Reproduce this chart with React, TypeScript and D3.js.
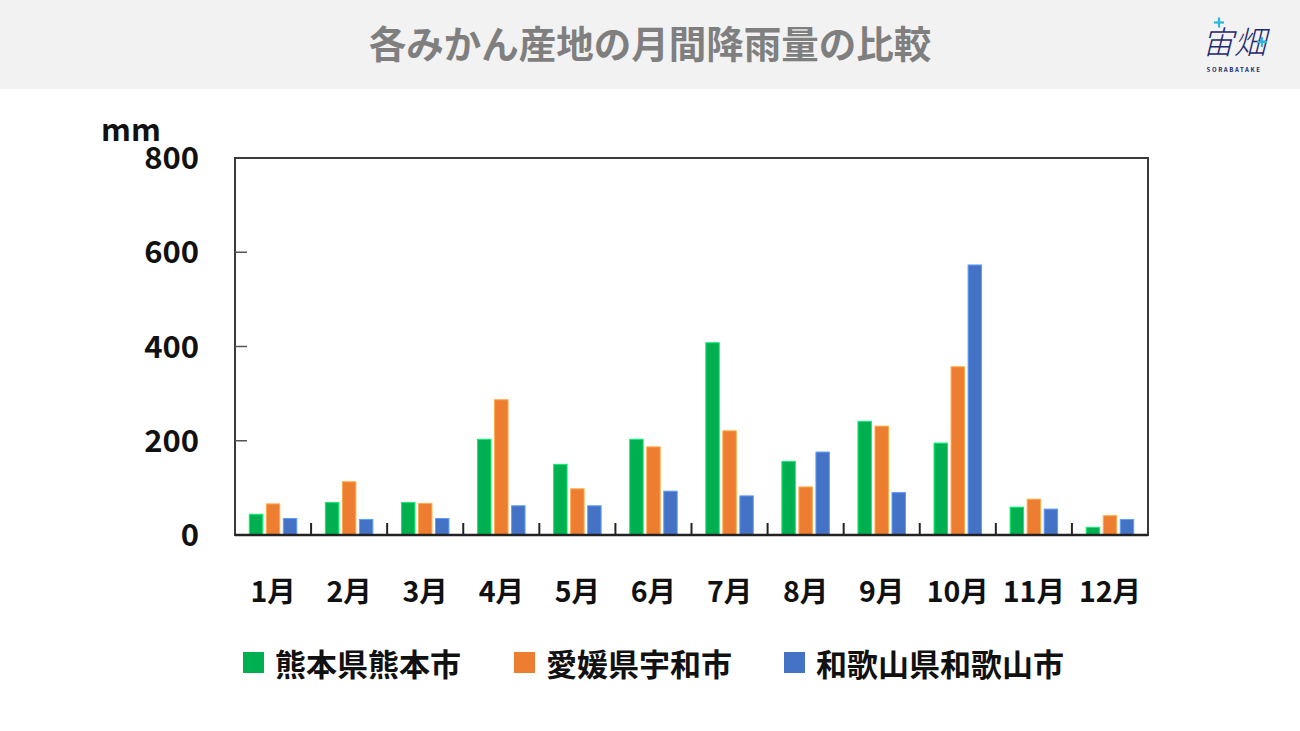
import React from "react";
import * as d3 from "d3";

const months = ["1月", "2月", "3月", "4月", "5月", "6月", "7月", "8月", "9月", "10月", "11月", "12月"];
const seriesNames = ["熊本県熊本市", "愛媛県宇和市", "和歌山県和歌山市"];
const seriesColors = ["#00b050", "#ed7d31", "#4472c4"];
const kumamoto = [44, 69, 69, 203, 150, 203, 408, 156, 241, 195, 59, 16];
const uwa = [66, 113, 67, 287, 98, 187, 221, 102, 231, 357, 76, 41];
const wakayama = [35, 33, 35, 62, 62, 93, 83, 176, 90, 573, 55, 33];
const yTicks = [0, 200, 400, 600, 800];
const title = "各みかん産地の月間降雨量の比較";
const yUnit = "mm";

const W = 1300;
const H = 731;
const FONT = "'Noto Sans CJK JP', 'Noto Sans', sans-serif";

export default function App() {
  const left = 235, right = 1148, top = 158, bottom = 535;
  const x = d3.scaleBand<string>().domain(months).range([left, right]).paddingInner(0).paddingOuter(0);
  const x1 = d3.scaleBand<string>().domain(seriesNames).range([0, x.bandwidth()]).paddingInner(0.21).paddingOuter(0.84);
  const y = d3.scaleLinear().domain([0, 800]).range([bottom, top]);
  const data = [kumamoto, uwa, wakayama];

  const legendX = [243, 514, 784];

  return (
    <div style={{ position: "fixed", left: 0, top: 0, width: W, height: H, background: "#fff" }}>
      <svg width={W} height={H} viewBox={`0 0 ${W} ${H}`} style={{ display: "block", fontFamily: FONT }}>
        <rect x={0} y={0} width={W} height={H} fill="#ffffff" />
        <rect x={0} y={0} width={W} height={89} fill="#f2f2f2" />
        <text x={650} y={58} textAnchor="middle" fontSize={37.5} fontWeight={700} fill="#7f7f7f">{title}</text>

        {/* logo */}
        <g>
          <text x={1234} y={54} textAnchor="middle" fontSize={32} fontWeight={300} fill="#1f2a6e" fontStyle="italic">宙畑</text>
          <g stroke="#29b6e0" strokeWidth={2.2}>
            <line x1={1214} y1={22.5} x2={1224} y2={22.5} />
            <line x1={1219} y1={17.5} x2={1219} y2={27.5} />
            <line x1={1257} y1={42} x2={1267} y2={42} />
            <line x1={1262} y1={37} x2={1262} y2={47} />
          </g>
          <text x={1234} y={72} textAnchor="middle" fontSize={6} fontWeight={700} fill="#1f2a6e" letterSpacing={1.6}>SORABATAKE</text>
        </g>

        {/* bars */}
        {data.map((vals, si) => (
          <g key={si}>
            {vals.map((v, mi) => {
              const bx = (x(months[mi]) as number) + (x1(seriesNames[si]) as number);
              return (
                <rect
                  key={mi}
                  x={bx}
                  y={y(v)}
                  width={x1.bandwidth()}
                  height={y(0) - y(v)}
                  fill={seriesColors[si]}
                  stroke={d3.color(seriesColors[si])!.brighter(0.9).formatHex()}
                  strokeWidth={1}
                />
              );
            })}
          </g>
        ))}

        {/* frame */}
        <rect x={left} y={top} width={right - left} height={bottom - top} fill="none" stroke="#3a3a3a" strokeWidth={2} />
        <line x1={left} x2={right} y1={bottom} y2={bottom} stroke="#222" strokeWidth={2.5} />

        {/* y ticks */}
        {yTicks.filter((t) => t > 0 && t < 800).map((t) => (
          <line key={t} x1={left} x2={left + 12} y1={y(t)} y2={y(t)} stroke="#555" strokeWidth={1.5} />
        ))}
        {yTicks.map((t) => (
          <text key={t} x={199} y={y(t)} dy="0.36em" textAnchor="end" fontSize={31} fontWeight={700} fill="#111">{t}</text>
        ))}
        <text x={101} y={141} fontSize={31} fontWeight={700} fill="#111">{yUnit}</text>

        {/* x ticks */}
        {months.slice(1).map((m) => (
          <line key={m} x1={x(m)} x2={x(m)} y1={bottom} y2={bottom - 12} stroke="#222" strokeWidth={2} />
        ))}
        {months.map((m) => (
          <text key={m} x={(x(m) as number) + x.bandwidth() / 2} y={602} textAnchor="middle" fontSize={28.5} fontWeight={700} fill="#111">{m}</text>
        ))}

        {/* legend */}
        {seriesNames.map((n, i) => (
          <g key={n}>
            <rect x={legendX[i]} y={652} width={21} height={21} fill={seriesColors[i]} />
            <text x={legendX[i] + 32} y={662} dominantBaseline="central" fontSize={31} fontWeight={700} fill="#111">{n}</text>
          </g>
        ))}
      </svg>
    </div>
  );
}
